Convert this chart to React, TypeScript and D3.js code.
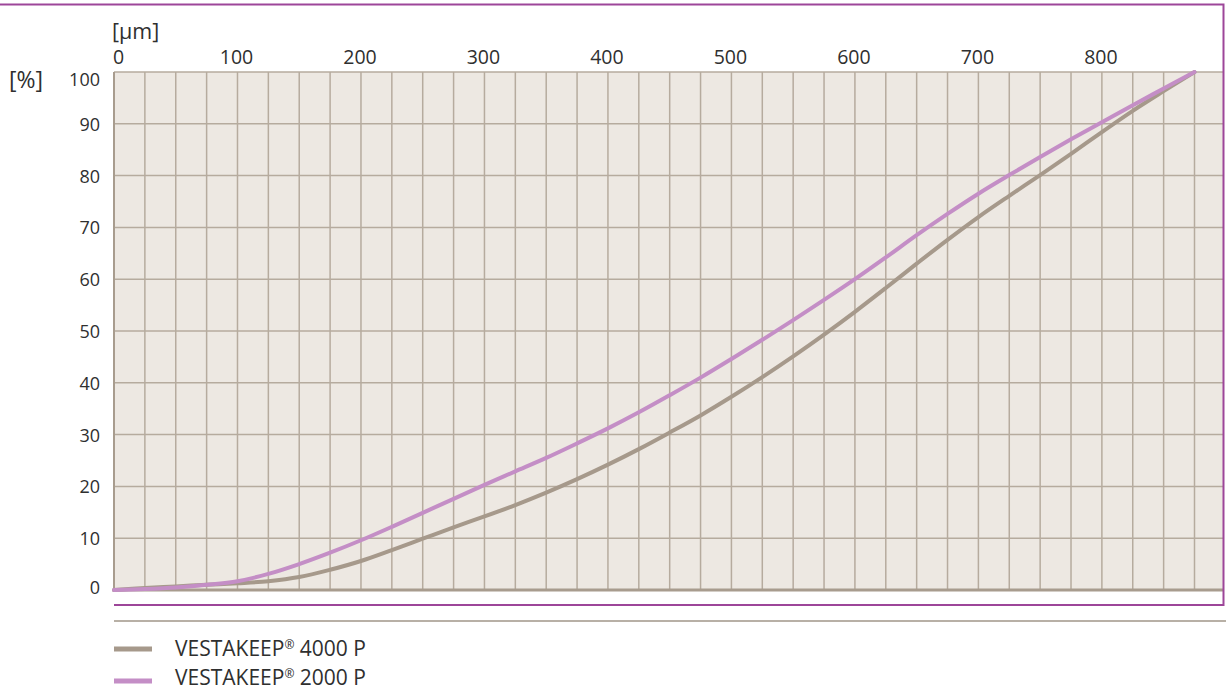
import * as d3 from 'd3';
import React, { useEffect, useRef } from 'react';

// particle size in µm, cumulative share in %
const sizes = [0, 25, 50, 75, 100, 125, 150, 175, 200, 225, 250, 275, 300, 325, 350, 375, 400, 425, 450, 475, 500, 525, 550, 575, 600, 625, 650, 675, 700, 725, 750, 775, 800, 825, 850, 875];
const vk4000 = [0, 0.4, 0.7, 1.0, 1.3, 1.7, 2.5, 3.9, 5.6, 7.7, 9.9, 12.1, 14.2, 16.4, 18.8, 21.4, 24.2, 27.2, 30.4, 33.7, 37.3, 41.1, 45.1, 49.3, 53.7, 58.3, 63.0, 67.6, 72.0, 76.1, 80.1, 84.2, 88.4, 92.5, 96.3, 100];
const vk2000 = [0, 0.2, 0.5, 1.0, 1.7, 3.1, 5.0, 7.2, 9.6, 12.2, 14.9, 17.6, 20.3, 22.9, 25.5, 28.3, 31.2, 34.3, 37.6, 41.0, 44.6, 48.3, 52.1, 56.0, 60.0, 64.2, 68.5, 72.6, 76.5, 80.1, 83.6, 87.0, 90.3, 93.6, 96.8, 100];
const xTicks = [0, 100, 200, 300, 400, 500, 600, 700, 800];
const yTicks = [0, 10, 20, 30, 40, 50, 60, 70, 80, 90, 100];
const series = [
  { name: '4000 P', values: vk4000, color: '#a6998b' },
  { name: '2000 P', values: vk2000, color: '#c48ec6' },
];

const W = 1226, H = 691;
const left = 114, right = 1223.5, top = 72, bottom = 590;
const font = '"Open Sans", "Noto Sans", sans-serif';
const textColor = '#2f2f2f';
const gridColor = '#b6ab9e';

const App = () => {
  const ref = useRef<SVGSVGElement>(null);

  useEffect(() => {
    const svg = d3.select(ref.current);
    svg.selectAll('*').remove();

    const x = d3.scaleLinear().domain([0, 875]).range([left, 1194.5]);
    const y = d3.scaleLinear().domain([0, 100]).range([bottom, top]);

    // plot background
    svg.append('rect')
      .attr('x', left).attr('y', top)
      .attr('width', right - left).attr('height', bottom - top)
      .attr('fill', '#ede8e2');

    // vertical grid every 25 µm
    svg.append('g').selectAll('line')
      .data(sizes.slice(1))
      .enter().append('line')
      .attr('x1', d => x(d)).attr('x2', d => x(d))
      .attr('y1', top).attr('y2', bottom)
      .attr('stroke', gridColor).attr('stroke-width', 1.5);

    // horizontal grid
    svg.append('g').selectAll('line')
      .data(yTicks.slice(1))
      .enter().append('line')
      .attr('x1', left).attr('x2', right)
      .attr('y1', d => y(d)).attr('y2', d => y(d))
      .attr('stroke', gridColor).attr('stroke-width', 1.5);

    // left edge + baseline
    svg.append('line')
      .attr('x1', left).attr('x2', left).attr('y1', top).attr('y2', bottom)
      .attr('stroke', '#a89c8e').attr('stroke-width', 2);
    svg.append('line')
      .attr('x1', left - 1).attr('x2', right).attr('y1', y(0)).attr('y2', y(0))
      .attr('stroke', '#a89c8e').attr('stroke-width', 3);

    // curves
    const line = d3.line<number>()
      .x((_, i) => x(sizes[i]))
      .y(d => y(d))
      .curve(d3.curveCatmullRom.alpha(0.5));

    series.forEach(s => {
      svg.append('path')
        .attr('d', line(s.values))
        .attr('fill', 'none')
        .attr('stroke', s.color)
        .attr('stroke-width', 4)
        .attr('stroke-linecap', 'round');
    });

    // x tick labels
    svg.append('g').selectAll('text')
      .data(xTicks)
      .enter().append('text')
      .attr('x', d => x(d) - 1)
      .attr('y', 64)
      .attr('text-anchor', d => d === 0 ? 'start' : 'middle')
      .style('font-family', font).style('font-size', '19.5px').style('fill', textColor)
      .text(d => d);

    // y tick labels
    svg.append('g').selectAll('text')
      .data(yTicks)
      .enter().append('text')
      .attr('x', 100)
      .attr('y', d => d === 100 ? y(d) + 14 : d === 0 ? y(d) + 4 : y(d) + 7)
      .attr('text-anchor', 'end')
      .style('font-family', font).style('font-size', '18px').style('fill', textColor)
      .text(d => d);

    // unit labels
    svg.append('text')
      .attr('x', 112).attr('y', 39)
      .style('font-family', font).style('font-size', '21.5px').style('fill', textColor)
      .text('[µm]');
    svg.append('text')
      .attr('x', 9).attr('y', 88)
      .style('font-family', font).style('font-size', '23px').style('fill', textColor)
      .text('[%]');

    // purple frame
    svg.append('path')
      .attr('d', `M0,4.5H${right}V605H${left}`)
      .attr('fill', 'none')
      .attr('stroke', '#9d4699')
      .attr('stroke-width', 2);

    // grey separator
    svg.append('line')
      .attr('x1', left).attr('x2', W).attr('y1', 621).attr('y2', 621)
      .attr('stroke', '#b8b0a6').attr('stroke-width', 2);

    // legend
    const legend = svg.append('g');
    series.forEach((s, i) => {
      const ly = 649 + i * 32;
      legend.append('line')
        .attr('x1', left).attr('x2', 152)
        .attr('y1', ly).attr('y2', ly)
        .attr('stroke', s.color).attr('stroke-width', 5);
      const t = legend.append('text')
        .attr('x', 175).attr('y', ly + (i === 0 ? 7 : 4))
        .style('font-family', font).style('font-size', '21px').style('fill', textColor);
      t.append('tspan').text('VESTAKEEP');
      t.append('tspan').attr('dy', -7).style('font-size', '12px').text('®');
      t.append('tspan').attr('dy', 7).text(` ${s.name}`);
    });
  }, []);

  return (
    <div style={{ position: 'absolute', left: 0, top: 0 }}>
      <svg ref={ref} width={W} height={H} style={{ display: 'block', background: '#fff' }} />
    </div>
  );
};

export default App;
